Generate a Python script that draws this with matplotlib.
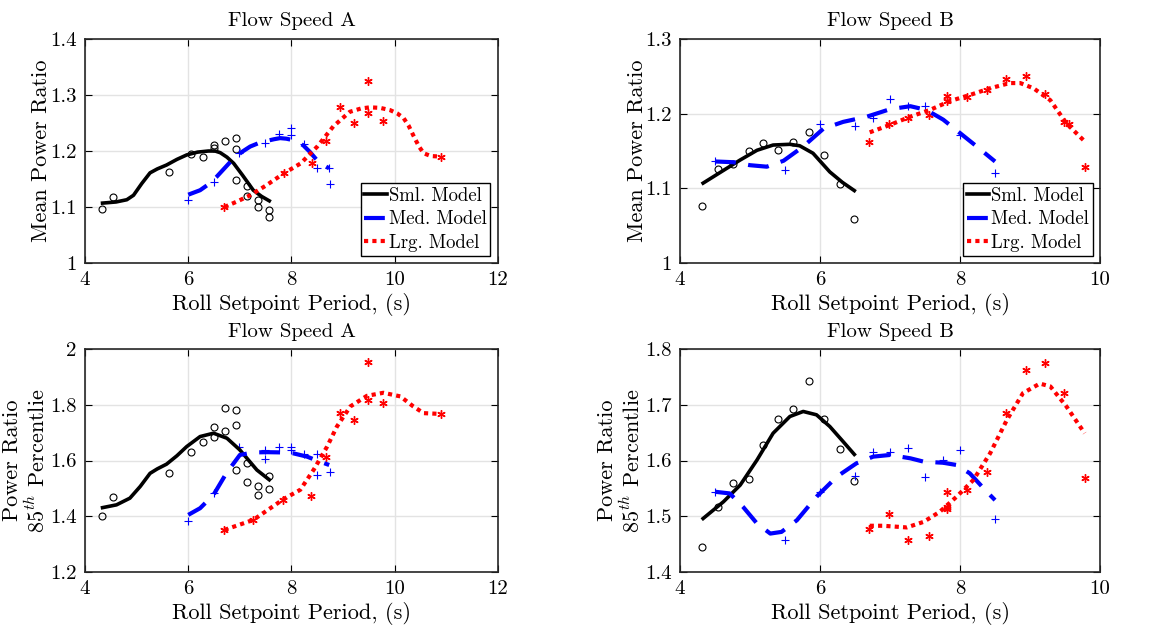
import numpy as np
import matplotlib
matplotlib.use("Agg")
from matplotlib import pyplot as plt
from matplotlib.ticker import FuncFormatter

plt.rcParams['font.family'] = 'serif'
plt.rcParams['font.serif'] = ['cmr10', 'DejaVu Serif']
plt.rcParams['mathtext.fontset'] = 'cm'
plt.rcParams['axes.formatter.use_mathtext'] = True
plt.rcParams['axes.unicode_minus'] = False

# ---- Flow Speed A, mean power ratio ----
a_sml_x = [4.33, 4.55, 5.63, 6.05, 6.28, 6.49, 6.50, 6.71, 6.93, 6.93, 6.93, 7.14, 7.14, 7.36, 7.36, 7.57, 7.57]
a_sml_y = [1.097, 1.118, 1.162, 1.194, 1.189, 1.210, 1.206, 1.217, 1.224, 1.204, 1.149, 1.138, 1.119, 1.113, 1.100, 1.094, 1.082]
a_sml_fx = [4.34, 4.60, 4.81, 4.94, 5.10, 5.26, 5.40, 5.58, 5.78, 5.97, 6.18, 6.39, 6.52, 6.62, 6.75, 6.88, 7.05, 7.26, 7.42, 7.57]
a_sml_fy = [1.107, 1.109, 1.113, 1.121, 1.142, 1.161, 1.168, 1.175, 1.185, 1.193, 1.198, 1.200, 1.200, 1.197, 1.189, 1.178, 1.157, 1.130, 1.119, 1.111]

a_med_x = [5.99, 6.49, 6.99, 7.49, 7.75, 8.00, 8.00, 8.24, 8.50, 8.73, 8.75]
a_med_y = [1.113, 1.145, 1.197, 1.215, 1.230, 1.241, 1.229, 1.213, 1.170, 1.169, 1.141]
a_med_fx = [6.00, 6.23, 6.40, 6.55, 6.72, 6.88, 7.05, 7.20, 7.36, 7.52, 7.66, 7.78, 7.90, 8.00, 8.12, 8.23, 8.36, 8.49, 8.62, 8.73]
a_med_fy = [1.122, 1.130, 1.141, 1.154, 1.171, 1.187, 1.199, 1.208, 1.214, 1.218, 1.221, 1.223, 1.222, 1.220, 1.216, 1.210, 1.198, 1.184, 1.175, 1.169]

a_lrg_x = [6.70, 7.85, 8.39, 8.66, 8.94, 9.22, 9.49, 9.49, 9.78, 10.90]
a_lrg_y = [1.100, 1.160, 1.178, 1.218, 1.279, 1.250, 1.325, 1.267, 1.254, 1.189]
a_lrg_fx = [6.70, 6.95, 7.20, 7.50, 7.85, 8.18, 8.50, 8.81, 9.13, 9.35, 9.52, 9.72, 9.91, 10.05, 10.17, 10.27, 10.37, 10.47, 10.56, 10.70, 10.90]
a_lrg_fy = [1.100, 1.110, 1.121, 1.138, 1.160, 1.178, 1.208, 1.244, 1.270, 1.276, 1.278, 1.277, 1.273, 1.267, 1.259, 1.245, 1.226, 1.208, 1.196, 1.191, 1.190]

# ---- Flow Speed B, mean power ratio ----
b_sml_x = [4.32, 4.54, 4.75, 4.98, 5.19, 5.40, 5.62, 5.84, 6.06, 6.28, 6.49]
b_sml_y = [1.076, 1.126, 1.133, 1.150, 1.161, 1.152, 1.162, 1.176, 1.144, 1.106, 1.059]
b_sml_fx = [4.33, 4.62, 4.86, 5.10, 5.33, 5.57, 5.71, 5.90, 6.14, 6.32, 6.49]
b_sml_fy = [1.107, 1.124, 1.138, 1.151, 1.158, 1.159, 1.157, 1.147, 1.122, 1.108, 1.097]

b_med_x = [4.50, 5.50, 6.00, 6.50, 6.75, 7.00, 7.25, 7.50, 8.00, 8.50]
b_med_y = [1.136, 1.124, 1.186, 1.184, 1.194, 1.219, 1.210, 1.210, 1.172, 1.121]
b_med_fx = [4.50, 4.76, 5.00, 5.24, 5.48, 5.76, 6.05, 6.33, 6.67, 7.00, 7.29, 7.52, 7.76, 8.00, 8.24, 8.50]
b_med_fy = [1.136, 1.135, 1.131, 1.129, 1.137, 1.156, 1.180, 1.189, 1.196, 1.206, 1.210, 1.205, 1.192, 1.174, 1.156, 1.136]

b_lrg_x = [6.70, 6.99, 7.26, 7.55, 7.82, 7.82, 8.10, 8.38, 8.66, 8.94, 9.21, 9.49, 9.55, 9.78]
b_lrg_y = [1.162, 1.186, 1.194, 1.198, 1.223, 1.217, 1.222, 1.232, 1.247, 1.251, 1.227, 1.189, 1.186, 1.129]
b_lrg_fx = [6.71, 7.00, 7.29, 7.57, 7.86, 8.14, 8.43, 8.71, 8.86, 9.05, 9.29, 9.52, 9.78]
b_lrg_fy = [1.175, 1.185, 1.196, 1.205, 1.217, 1.225, 1.234, 1.241, 1.241, 1.234, 1.218, 1.187, 1.163]

# ---- Flow Speed A, 85th percentile ----
c_sml_x = [4.33, 4.55, 5.63, 6.05, 6.28, 6.49, 6.49, 6.71, 6.71, 6.93, 6.93, 6.93, 7.14, 7.14, 7.36, 7.36, 7.57, 7.57]
c_sml_y = [1.401, 1.470, 1.555, 1.631, 1.666, 1.719, 1.685, 1.790, 1.705, 1.783, 1.729, 1.566, 1.590, 1.523, 1.507, 1.475, 1.545, 1.498]
c_sml_fx = [4.34, 4.61, 4.87, 5.07, 5.26, 5.40, 5.58, 5.78, 5.97, 6.23, 6.49, 6.75, 7.00, 7.33, 7.57]
c_sml_fy = [1.431, 1.441, 1.465, 1.507, 1.554, 1.570, 1.587, 1.617, 1.650, 1.686, 1.698, 1.680, 1.638, 1.566, 1.531]

c_med_x = [5.99, 6.49, 6.99, 7.49, 7.49, 7.75, 8.00, 8.00, 8.24, 8.50, 8.50, 8.75]
c_med_y = [1.383, 1.483, 1.650, 1.638, 1.606, 1.647, 1.647, 1.638, 1.624, 1.624, 1.549, 1.559]
c_med_fx = [6.00, 6.23, 6.49, 6.74, 7.00, 7.26, 7.52, 7.84, 8.03, 8.30, 8.55, 8.73]
c_med_fy = [1.405, 1.429, 1.477, 1.555, 1.620, 1.629, 1.630, 1.629, 1.626, 1.614, 1.596, 1.584]

c_lrg_x = [6.70, 7.26, 7.83, 8.38, 8.66, 8.94, 9.22, 9.49, 9.49, 9.78, 10.90]
c_lrg_y = [1.351, 1.387, 1.459, 1.471, 1.614, 1.770, 1.745, 1.955, 1.818, 1.808, 1.767]
c_lrg_fx = [6.70, 7.26, 7.85, 8.17, 8.43, 8.69, 8.88, 9.14, 9.46, 9.78, 10.11, 10.36, 10.56, 10.90]
c_lrg_fy = [1.351, 1.387, 1.462, 1.495, 1.567, 1.650, 1.722, 1.794, 1.832, 1.843, 1.830, 1.794, 1.770, 1.767]

# ---- Flow Speed B, 85th percentile ----
d_sml_x = [4.32, 4.54, 4.75, 4.98, 5.19, 5.40, 5.62, 5.84, 6.06, 6.28, 6.49]
d_sml_y = [1.445, 1.516, 1.559, 1.566, 1.627, 1.675, 1.693, 1.743, 1.675, 1.620, 1.563]
d_sml_fx = [4.33, 4.62, 4.86, 5.10, 5.33, 5.57, 5.76, 5.95, 6.14, 6.33, 6.49]
d_sml_fy = [1.496, 1.526, 1.556, 1.601, 1.649, 1.679, 1.688, 1.682, 1.661, 1.634, 1.611]

d_med_x = [4.50, 5.50, 6.00, 6.50, 6.75, 7.00, 7.25, 7.50, 7.75, 8.00, 8.50]
d_med_y = [1.544, 1.457, 1.543, 1.573, 1.616, 1.616, 1.623, 1.571, 1.601, 1.619, 1.496]
d_med_fx = [4.50, 4.71, 4.90, 5.10, 5.29, 5.45, 5.67, 5.95, 6.24, 6.52, 6.76, 7.00, 7.29, 7.48, 7.76, 7.95, 8.14, 8.36, 8.50]
d_med_fy = [1.544, 1.541, 1.517, 1.487, 1.469, 1.472, 1.493, 1.535, 1.571, 1.595, 1.607, 1.610, 1.604, 1.598, 1.596, 1.592, 1.577, 1.547, 1.529]

d_lrg_x = [6.70, 6.99, 7.26, 7.55, 7.82, 7.82, 7.82, 8.10, 8.38, 8.66, 8.94, 9.21, 9.49, 9.78]
d_lrg_y = [1.477, 1.504, 1.457, 1.465, 1.543, 1.517, 1.513, 1.547, 1.579, 1.685, 1.762, 1.775, 1.722, 1.568]
d_lrg_fx = [6.71, 6.90, 7.24, 7.48, 7.71, 7.95, 8.19, 8.43, 8.67, 8.90, 9.14, 9.29, 9.52, 9.78]
d_lrg_fy = [1.483, 1.483, 1.480, 1.490, 1.508, 1.535, 1.565, 1.613, 1.673, 1.721, 1.738, 1.733, 1.697, 1.649]

titles = ['Flow Speed A', 'Flow Speed B', 'Flow Speed A', 'Flow Speed B']
ylabels = ['Mean Power Ratio', 'Mean Power Ratio',
           'Power Ratio\n$85^{th}$ Percentlie', 'Power Ratio\n$85^{th}$ Percentlie']
xlabel = 'Roll Setpoint Period, (s)'
legend_labels = ['Sml. Model', 'Med. Model', 'Lrg. Model']

panels = [
    (a_sml_x, a_sml_y, a_sml_fx, a_sml_fy, a_med_x, a_med_y, a_med_fx, a_med_fy, a_lrg_x, a_lrg_y, a_lrg_fx, a_lrg_fy),
    (b_sml_x, b_sml_y, b_sml_fx, b_sml_fy, b_med_x, b_med_y, b_med_fx, b_med_fy, b_lrg_x, b_lrg_y, b_lrg_fx, b_lrg_fy),
    (c_sml_x, c_sml_y, c_sml_fx, c_sml_fy, c_med_x, c_med_y, c_med_fx, c_med_fy, c_lrg_x, c_lrg_y, c_lrg_fx, c_lrg_fy),
    (d_sml_x, d_sml_y, d_sml_fx, d_sml_fy, d_med_x, d_med_y, d_med_fx, d_med_fy, d_lrg_x, d_lrg_y, d_lrg_fx, d_lrg_fy),
]
xlims = [(4, 12), (4, 10), (4, 12), (4, 10)]
ylims = [(1.0, 1.4), (1.0, 1.3), (1.2, 2.0), (1.4, 1.8)]
yticks = [np.arange(1.0, 1.41, 0.1), np.arange(1.0, 1.31, 0.1),
          np.arange(1.2, 2.01, 0.2), np.arange(1.4, 1.81, 0.1)]
xticks = [np.arange(4, 12.1, 2), np.arange(4, 10.1, 2), np.arange(4, 12.1, 2), np.arange(4, 10.1, 2)]

# axes boxes in figure fractions [left, bottom, width, height]
boxes = [[0.0727, 0.5825, 0.3533, 0.3556],
         [0.5817, 0.5825, 0.3593, 0.3556],
         [0.0727, 0.0920, 0.3533, 0.3540],
         [0.5817, 0.0920, 0.3593, 0.3540]]

fig = plt.figure(figsize=(11.69, 6.30), dpi=100)

for k in range(4):
    ax = fig.add_axes(boxes[k])
    sx, sy, sfx, sfy, mx, my, mfx, mfy, lx, ly, lfx, lfy = panels[k]

    ax.plot(sx, sy, 'o', mfc='none', mec='black', ms=5, mew=0.8)
    ax.plot(mx, my, '+', color='blue', ms=6, mew=0.8)
    ax.plot(lx, ly, marker=(6, 2, 0), ls='none', color='red', ms=6, mew=1.0)

    l1, = ax.plot(sfx, sfy, '-', color='black', lw=2.6)
    l2, = ax.plot(mfx, mfy, color='blue', lw=3, dashes=(5, 3))
    l3, = ax.plot(lfx, lfy, color='red', lw=3, dashes=(1, 1))

    ax.set_xlim(*xlims[k])
    ax.set_ylim(*ylims[k])
    ax.set_xticks(xticks[k])
    ax.set_yticks(yticks[k])
    ax.xaxis.set_major_formatter(FuncFormatter(lambda v, p: '%g' % round(v, 3)))
    ax.yaxis.set_major_formatter(FuncFormatter(lambda v, p: '%g' % round(v, 3)))
    ax.tick_params(direction='in', top=True, right=True, labelsize=15, length=5, width=0.8, pad=6)
    ax.grid(True, color='#e3e3e3', lw=1)
    ax.set_axisbelow(True)
    for s in ax.spines.values():
        s.set_linewidth(1.2)
        s.set_color('#262626')

    ax.set_title(titles[k], fontsize=15, pad=9)
    ax.set_xlabel(xlabel, fontsize=16, labelpad=3)
    if k < 2:
        ax.set_ylabel(ylabels[k], fontsize=16, labelpad=-1)
    else:
        ax.set_ylabel(ylabels[k], fontsize=16, labelpad=1, linespacing=1.1)

    if k < 2:
        leg = ax.legend([l1, l2, l3], legend_labels, loc='lower right', fontsize=13.5,
                        fancybox=False, framealpha=1, edgecolor='black',
                        handlelength=1.2, handletextpad=0.1, borderpad=0.2,
                        labelspacing=0.3, borderaxespad=0.4)
        leg.get_frame().set_linewidth(1.0)

fig.savefig('out.png', dpi=100)
